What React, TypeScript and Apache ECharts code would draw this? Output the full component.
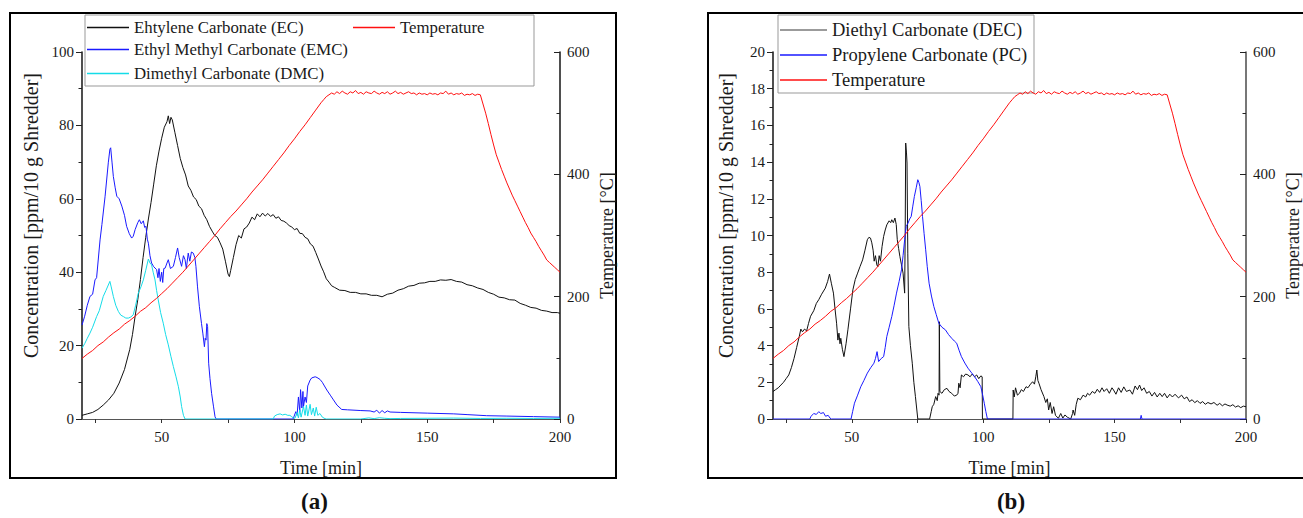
import React, { useEffect, useRef } from "react";
import * as echarts from "echarts";

const FONT = "Liberation Serif";

// ---------- Panel (a) data: [time (min), value] ----------
const ecData: number[][] = [
  [20, 1.0], [22, 1.4], [24, 1.8], [26, 2.6], [28, 3.8], [30, 5.2], [32, 7.0], [34, 9.8], [36, 13.5], [38, 19],
  [39, 23], [40, 28], [41, 32.5], [42, 38], [43, 44], [44, 49.5], [45, 54.5], [46, 59], [47, 64], [48, 69],
  [49, 73], [50, 76.5], [51, 79.5], [52, 81], [52.5, 82.6], [53, 80.5], [53.5, 82.2], [54, 81.5], [55, 78],
  [56, 74.5], [57, 71], [58, 68.5], [59, 66.5], [60, 63.5], [61, 62.3], [62, 60.5], [63, 59.8], [64, 58],
  [65, 57.3], [66, 55.5], [67, 54.3], [68, 52.5], [69, 51.2], [70, 50], [71, 49.5], [72, 48], [73, 46.3],
  [74, 43], [75, 39.5], [75.5, 38.8], [76, 40.5], [77, 44], [78, 47.5], [79, 50], [80, 49.3], [81, 51.8],
  [82, 52.3], [83, 53.4], [84, 55], [85, 54.3], [86, 55.9], [87, 55.1], [88, 56.1], [89, 55.3], [90, 56],
  [91, 55.2], [92, 55.7], [93, 54.7], [94, 55.1], [95, 54.1], [96, 53.9], [97, 53.4], [98, 52.7], [99, 52.3],
  [100, 51.6], [101, 51.9], [102, 50.6], [103, 50.5], [104, 49.5], [105, 49.1], [106, 47.7], [107, 47.1],
  [108, 45.4], [109, 43.6], [110, 41.7], [111, 40.1], [112, 38.2], [113, 37.3], [114, 36.3], [115, 35.9],
  [117, 35.1], [119, 35.0], [121, 34.5], [123, 34.5], [125, 34.1], [127, 34.1], [129, 33.7], [131, 33.7],
  [133, 33.3], [135, 34.0], [137, 34.3], [139, 35.1], [141, 35.5], [143, 36.2], [145, 36.4], [147, 37.0],
  [149, 37.1], [151, 37.5], [153, 37.5], [155, 37.9], [157, 37.8], [159, 38.0], [161, 37.5], [163, 37.3],
  [165, 36.6], [167, 36.3], [169, 35.7], [171, 35.3], [173, 34.5], [175, 34.0], [177, 33.2], [179, 33.0],
  [181, 32.5], [183, 32.4], [185, 31.5], [187, 31.0], [189, 30.4], [191, 30.2], [193, 29.6], [195, 29.4],
  [197, 29.0], [199, 29.0], [200, 28.8],
];

const emcData: number[][] = [
  [20, 25.6], [21, 28], [22, 31], [23, 33.4], [24, 34], [24.9, 37.9], [25.5, 38.5], [26.8, 48.8], [27.5, 53],
  [28.7, 60.7], [29.9, 69.8], [30.5, 73.5], [30.8, 73.9], [31.3, 70], [31.8, 66.1], [32.5, 63], [33.1, 60.7],
  [34, 60], [35, 58], [36, 55.5], [36.8, 52.5], [37.8, 50.5], [38.7, 49.3], [39.3, 49.8], [40, 51.6], [41, 53.5],
  [41.6, 54.3], [42.3, 53.2], [43.1, 54], [43.6, 52.2], [44.1, 52.5], [44.6, 49], [45, 47.9], [45.6, 44.5],
  [46.2, 42.5], [47, 41.5], [48.1, 40.7], [48.6, 38.5], [49, 41], [49.5, 37.5], [50, 40], [50.4, 37.2],
  [50.8, 41], [51.3, 41.1], [52, 42.5], [52.5, 43.4], [53.3, 41], [54.4, 41.6], [55.2, 44], [56, 46.6],
  [56.6, 44], [57.5, 41.6], [58.2, 44.5], [58.8, 43.4], [59.3, 41], [60, 45.2], [60.6, 43], [61.2, 45.5],
  [61.9, 45.2], [62.5, 44], [62.9, 41.6], [63.5, 36], [64.2, 30.6], [65, 26], [65.5, 23.4], [66.1, 19.7],
  [66.4, 22], [66.7, 21.5], [67, 26], [67.3, 25.2], [67.7, 15.2], [68.2, 11], [68.8, 7], [69.5, 3.5],
  [70.1, 0.6], [70.5, 0], [99.5, 0], [100.5, 2], [101, 1], [101.5, 6], [102, 2], [102.3, 8], [102.8, 3],
  [103.2, 7.5], [103.4, 3.4], [104, 6], [104.5, 4.5], [105, 9], [105.9, 10.6], [106.5, 11.2], [107.8, 11.5],
  [108.5, 11.3], [109.6, 10.8], [110.5, 10], [111.3, 9], [112.2, 7.9], [113.5, 6.5], [114.7, 5.2], [116, 3.8],
  [117.8, 2.6], [120, 2.5], [125, 2.3], [128.5, 2.2], [130, 1.9], [131, 2.4], [132, 1.6], [133, 2.3],
  [134, 1.7], [135, 2.2], [136, 1.9], [140, 1.8], [150, 1.6], [160, 1.4], [165, 1.2], [172.4, 0.9],
  [180, 0.8], [190, 0.65], [200, 0.5],
];

const dmcData: number[][] = [
  [20, 19.3], [21, 20.5], [22, 22], [23, 23.4], [24, 25], [25.5, 27.9], [26.5, 29.5], [28, 33.4], [29, 35],
  [30.5, 37.5], [31, 36], [31.8, 33.4], [32.7, 31], [33.7, 29.3], [34.6, 28.3], [35.6, 27.9], [36.5, 27.5],
  [37.5, 27.5], [38.4, 27.8], [39.3, 28.4], [40.2, 31], [41.2, 34.3], [42.2, 36], [43.1, 37.9], [44, 40.5],
  [45, 43.6], [45.6, 42.5], [46.2, 42], [46.8, 40], [47.5, 37.9], [48.1, 35], [48.7, 32.5], [49.6, 29],
  [50.6, 26.1], [51.5, 23], [52.5, 20.2], [53.5, 17], [54.4, 14.3], [55.4, 11.5], [56.3, 8.8], [57, 6],
  [57.5, 3.4], [58.2, 1], [58.8, 0], [92, 0], [92.5, 0.8], [93.5, 1.2], [94.6, 1.4], [95.5, 1.1], [96.5, 1.3],
  [97.5, 1.0], [98.3, 1.0], [99, 0.6], [99.6, 0.3], [100.2, 0.2], [101, 1.8], [101.5, 0.3], [102, 2.5],
  [102.5, 0.5], [103.4, 3.4], [104, 1], [104.5, 3.8], [105, 0.8], [105.9, 4], [106.4, 1.2], [107.1, 3],
  [107.6, 0.8], [108.2, 3.2], [108.8, 1], [109.6, 1.5], [110.5, 0.5], [111.5, 0.1], [112, 0], [125, 0],
  [128, 0.3], [130, 0.1], [132, 0.35], [134, 0.2], [136, 0.1], [140, 0.15], [150, 0.2], [160, 0.25],
  [170, 0.15], [180, 0.2], [190, 0.15], [200, 0.2],
];

// Temperature profile (°C)
const temperatureData: number[][] = [
  [20, 99], [22, 106], [24, 112], [26, 120], [28, 126], [30, 134], [32, 141], [34, 147], [36, 155], [38, 161],
  [40, 168], [42, 176], [44, 182], [46, 190], [48, 197], [50, 205], [52, 213], [54, 222], [56, 231], [58, 240],
  [60, 250], [62, 260], [64, 270], [66, 280], [68, 290], [70, 300], [72, 311], [74, 321], [76, 331], [78, 340],
  [80, 350], [82, 360], [84, 371], [86, 381], [88, 391], [90, 402], [92, 413], [94, 424], [96, 435], [98, 447],
  [100, 458], [102, 470], [104, 481], [106, 493], [108, 505], [110, 517], [111, 522], [112, 527], [113, 530],
  [114, 533], [115, 531], [116, 535], [117, 532], [118, 536], [119, 533], [120, 531], [121, 535], [122, 533],
  [123, 537], [124, 532], [125, 534], [126, 531], [127, 535], [128, 533], [129, 532], [130, 536], [131, 533],
  [132, 531], [133, 534], [134, 532], [135, 535], [136, 531], [137, 533], [138, 536], [139, 532], [140, 534],
  [141, 531], [142, 533], [143, 535], [144, 532], [145, 533], [146, 530], [147, 533], [148, 531], [149, 532],
  [150, 530], [151, 533], [152, 531], [153, 532], [154, 530], [155, 533], [156, 532], [157, 536], [158, 531],
  [159, 533], [160, 530], [161, 532], [162, 531], [163, 533], [164, 529], [165, 531], [166, 530], [167, 532],
  [168, 529], [169, 531], [170, 530], [171, 515], [172, 500], [173, 483], [174, 465], [175, 448], [176, 432],
  [177, 420], [178, 408], [179, 397], [180, 386], [181, 376], [182, 366], [183, 357], [184, 348], [185, 339],
  [186, 330], [187, 321], [188, 313], [189, 304], [190, 297], [191, 290], [192, 282], [193, 275], [194, 268],
  [195, 260], [196, 256], [197, 252], [198, 248], [199, 244], [200, 240],
];

// ---------- Panel (b) data ----------
const decData: number[][] = [
  [20, 1.5], [21, 1.6], [22, 1.7], [23, 1.85], [24, 2.0], [25, 2.2], [26, 2.4], [27, 2.8], [28, 3.3], [29, 3.9],
  [30, 4.5], [30.6, 4.9], [31.2, 4.75], [32, 4.9], [32.8, 4.8], [33.5, 5.2], [34.3, 5.6], [35.5, 5.9],
  [36.5, 6.3], [37.4, 6.5], [38.5, 6.8], [39.9, 7.13], [40.8, 7.5], [41.5, 7.9], [42.2, 7.4], [43, 6.86],
  [43.6, 6.0], [44.2, 5.22], [44.7, 4.3], [45.1, 4.68], [45.5, 4.1], [45.8, 4.4], [46.4, 3.8], [47, 3.4],
  [47.8, 4.1], [48.5, 4.86], [49.5, 6.0], [50.4, 7.04], [51.3, 7.6], [52.2, 7.95], [53.1, 8.3], [54.1, 8.67],
  [55, 9.2], [55.9, 9.77], [56.5, 9.9], [57.1, 9.86], [57.6, 9.6], [58.1, 9.2], [58.5, 8.6], [59, 8.9],
  [59.5, 8.4], [59.9, 8.3], [60.4, 8.9], [60.9, 8.6], [61.5, 9.4], [62.1, 9.95], [62.7, 10.3], [63.3, 10.58],
  [64.2, 10.8], [64.8, 10.7], [65.2, 10.86], [65.8, 10.7], [66.4, 10.95], [66.9, 10.6], [67.3, 9.77],
  [67.8, 9.3], [68.3, 8.85], [68.9, 8.4], [69.5, 7.95], [70.1, 6.86], [70.3, 10], [70.5, 15.04], [70.8, 14.5],
  [71, 13.95], [71.3, 9], [71.7, 5.04], [72.3, 4], [73, 3.04], [73.6, 2], [74.2, 1.22], [75.1, 0], [79.6, 0],
  [80.2, 0.4], [80.6, 0.67], [81.2, 0.8], [81.9, 1.22], [82.5, 1.0], [82.8, 1.4], [83.2, 1.3], [83.3, 5.3],
  [83.5, 1.5], [84.3, 1.4], [85.2, 1.6], [86.2, 1.67], [87, 1.5], [88, 1.4], [89, 1.25], [89.9, 1.3],
  [90.4, 1.4], [90.7, 1.95], [91.2, 1.7], [91.7, 2.4], [92.5, 2.3], [93.3, 2.45], [94.2, 2.4], [95, 2.3],
  [95.8, 2.45], [96.7, 2.3], [97.5, 2.4], [98.3, 2.2], [99.1, 2.35], [99.6, 2.3], [99.7, 0], [111.3, 0],
  [111.4, 1.58], [111.8, 1.2], [112.3, 1.7], [113, 1.3], [113.8, 1.4], [114.5, 1.6], [115.3, 1.5],
  [116.3, 1.76], [117, 1.7], [118, 1.9], [118.8, 2.03], [119.5, 1.9], [120, 2.3], [120.4, 2.67], [120.8, 2.1],
  [121.2, 1.95], [122, 1.6], [123.1, 1.22], [123.8, 0.9], [124.4, 1.1], [124.9, 0.49], [125.5, 0.9],
  [126.2, 0.3], [126.8, 0.67], [127.5, 0.2], [128.6, 0.04], [129.5, 0.3], [130.3, 0.05], [131.1, 0.22],
  [132, 0.1], [133.3, 0], [134, 0.3], [134.2, 0.49], [134.8, 0.2], [135.4, 0.8], [136, 1.13], [137, 1.05],
  [138, 1.3], [139, 1.2], [139.7, 1.4], [140.5, 1.3], [141.5, 1.5], [142.5, 1.4], [143.4, 1.62], [144.3, 1.45],
  [145.2, 1.7], [146, 1.5], [147, 1.65], [148, 1.4], [149, 1.7], [149.6, 1.58], [150.5, 1.35], [151.5, 1.7],
  [152.5, 1.45], [153.5, 1.75], [154.5, 1.5], [155.8, 1.58], [156.8, 1.35], [157.8, 1.8], [158.7, 1.6],
  [159.5, 1.85], [160.3, 1.55], [161.2, 1.7], [162.2, 1.4], [163.2, 1.5], [164.2, 1.25], [165.2, 1.45],
  [166.2, 1.2], [167.2, 1.4], [168.1, 1.22], [169, 1.4], [170, 1.15], [171, 1.35], [172, 1.2], [173, 1.35],
  [174.3, 1.15], [175.5, 1.3], [176.5, 1.1], [177.5, 1.2], [178.5, 0.95], [179.5, 1.05], [180.5, 0.89],
  [181.5, 1.0], [182.5, 0.85], [183.5, 0.95], [184.5, 0.8], [185.5, 0.9], [186.7, 0.82], [187.8, 0.9],
  [189, 0.75], [190, 0.85], [191, 0.72], [192, 0.82], [192.8, 0.76], [194, 0.7], [195, 0.78], [196, 0.65],
  [197, 0.72], [198, 0.62], [199, 0.7], [200, 0.67],
];

const pcData: number[][] = [
  [20, 0], [34, 0], [34.5, 0.15], [35.5, 0.3], [36.5, 0.25], [37.4, 0.4], [38.2, 0.3], [39.2, 0.35], [40, 0.15],
  [41, 0.2], [41.7, 0.05], [42.2, 0], [49.7, 0], [50.3, 0.4], [51, 0.86], [52.2, 1.3], [53.4, 1.76], [54.6, 2.1],
  [55.9, 2.5], [57.2, 2.8], [58.4, 3.04], [59, 3.3], [59.6, 3.67], [60.2, 3.13], [61.2, 3.3], [62.1, 3.4],
  [62.7, 3.9], [63.3, 4.49], [64.2, 5.0], [65.2, 5.58], [66.1, 6.2], [67, 6.86], [68, 7.5], [68.9, 8.13],
  [69.5, 8.9], [70.1, 9.77], [70.7, 10.5], [71.4, 10.68], [72, 10.9], [72.6, 11.04], [73.2, 11.6],
  [73.8, 12.13], [74.5, 12.6], [75.1, 13.04], [75.5, 12.9], [75.9, 12.67], [76.4, 11.9], [76.9, 11.04],
  [77.5, 10.1], [78.1, 9.22], [78.7, 8.3], [79.4, 7.4], [80.3, 6.7], [81.2, 6.13], [82.1, 5.7], [83.1, 5.22],
  [84.3, 5.0], [85.6, 4.86], [86.8, 4.6], [88, 4.4], [89, 4.25], [89.9, 4.13], [90.8, 3.75], [91.7, 3.4],
  [93, 3.05], [94.2, 2.77], [95.4, 2.55], [96.7, 2.31], [97.9, 2.05], [99.1, 1.76], [99.8, 1.3], [100.4, 0.86],
  [101, 0.4], [101.6, 0], [159.8, 0], [160.1, 0.2], [160.4, 0], [200, 0],
];

// ---------- Axis ticks / labels ----------
const timeLabels = [50, 100, 150, 200];
const timeTicks = [25, 50, 75, 100, 125, 150, 175, 200];

const axisText = { color: "#1a1a1a", fontFamily: FONT, fontSize: 15 };
const nameText = { color: "#1a1a1a", fontFamily: FONT, fontSize: 18 };

function xAxisFor(gridIndex: number) {
  return {
    type: "value",
    gridIndex,
    min: 20,
    max: 200,
    name: "Time [min]",
    nameLocation: "middle",
    nameGap: 40,
    nameTextStyle: nameText,
    axisLine: { show: true, lineStyle: { color: "#555", width: 1 } },
    axisTick: { show: true, length: 4, customValues: timeTicks, lineStyle: { color: "#333" } },
    axisLabel: { show: true, margin: 10, customValues: timeLabels, ...axisText },
    splitLine: { show: false },
  };
}

function yAxisFor(gridIndex: number, position: string, max: number, interval: number, name: string) {
  const right = position === "right";
  return {
    type: "value",
    gridIndex,
    position,
    min: 0,
    max,
    interval,
    name,
    nameLocation: "middle",
    nameGap: right ? 38 : gridIndex === 0 ? 41 : 37,
    nameTextStyle: right
      ? nameText
      : { ...nameText, fontSize: 20, padding: [0, 0, 0, 40] },
    axisLine: { show: true, onZero: false, lineStyle: { color: right && gridIndex === 1 ? "#555" : "#222", width: 1.6 } },
    axisTick: { show: true, inside: right, length: 6, lineStyle: { color: "#222" } },
    minorTick: { show: true, splitNumber: 2, length: 3.5, lineStyle: { color: "#222" } },
    axisLabel: { show: true, margin: right ? 7 : 8, ...axisText },
    splitLine: { show: false },
    minorSplitLine: { show: false },
  };
}

const lineSeries = (name: string, data: number[][], color: string, xi: number, yi: number) => ({
  type: "line",
  name,
  data,
  xAxisIndex: xi,
  yAxisIndex: yi,
  symbol: "none",
  showSymbol: false,
  lineStyle: { color, width: 1 },
  itemStyle: { color },
  silent: true,
});

const legendItem = (name: string, left: number, top: number, width: number, fontSize: number, iconColor: string) => ({
  show: true,
  data: [{ name, icon: "rect", itemStyle: { color: iconColor, borderWidth: 0, opacity: 1 } }],
  icon: "rect",
  left,
  top,
  padding: 0,
  itemWidth: width,
  itemHeight: 1.6,
  itemGap: 0,
  selectedMode: false,
  inactiveColor: iconColor,
  itemStyle: { color: iconColor, borderWidth: 0 },
  textStyle: { color: "#1a1a1a", fontFamily: FONT, fontSize, lineHeight: 20 },
});

const RED = "#ff1010";
const BLUE = "#1a1aff";
const CYAN = "#14dce8";
const BLACK = "#111111";

export default function App() {
  const ref = useRef<HTMLDivElement>(null);
  useEffect(() => {
    if (!ref.current) return;
    const chart = echarts.init(ref.current, null, { renderer: "svg" });
    const option: any = {
      animation: false,
      backgroundColor: "#ffffff",
      grid: [
        { left: 82, top: 52, width: 478, height: 367, containLabel: false },
        { left: 773, top: 52, width: 486, height: 367, containLabel: false },
      ],
      xAxis: [xAxisFor(0), xAxisFor(1)],
      yAxis: [
        yAxisFor(0, "left", 100, 20, "Concentration [ppm/10 g Shredder]"),
        yAxisFor(0, "right", 600, 200, "Temperature [°C]"),
        yAxisFor(1, "left", 20, 2, "Concentration [ppm/10 g Shredder]"),
        yAxisFor(1, "right", 600, 200, "Temperature [°C]"),
      ],
      legend: [
        legendItem("Ehtylene Carbonate (EC)", 87, 17.5, 42, 16.8, BLACK),
        legendItem("Ethyl Methyl Carbonate (EMC)", 87, 39.5, 42, 16.8, BLUE),
        legendItem("Dimethyl Carbonate (DMC)", 87, 63.5, 42, 16.8, CYAN),
        legendItem("Temperature", 353, 17.5, 42, 16.8, RED),
        legendItem("Diethyl Carbonate (DEC)", 780, 20, 47, 18.5, "#7a7a7a"),
        legendItem("Propylene Carbonate (PC)", 780, 45, 47, 18.5, BLUE),
        legendItem("Temperature", 780, 70, 47, 18.5, RED),
      ],
      graphic: [
        { type: "rect", shape: { x: 10, y: 13, width: 606, height: 465 }, style: { fill: "none", stroke: "#000", lineWidth: 2 }, silent: true },
        { type: "rect", shape: { x: 708, y: 13, width: 620, height: 465 }, style: { fill: "none", stroke: "#000", lineWidth: 2 }, silent: true },
        { type: "rect", shape: { x: 85, y: 15, width: 449, height: 71 }, style: { fill: "none", stroke: "#999", lineWidth: 1 }, silent: true },
        { type: "rect", shape: { x: 778, y: 15, width: 256, height: 78 }, style: { fill: "none", stroke: "#999", lineWidth: 1 }, silent: true },
        { type: "text", x: 314.5, y: 501, style: { text: "(a)", font: `bold 23px ${FONT}`, fill: "#111", textAlign: "center", textVerticalAlign: "middle" }, silent: true },
        { type: "text", x: 1011, y: 501, style: { text: "(b)", font: `bold 23px ${FONT}`, fill: "#111", textAlign: "center", textVerticalAlign: "middle" }, silent: true },
      ],
      series: [
        lineSeries("Ehtylene Carbonate (EC)", ecData, BLACK, 0, 0),
        lineSeries("Ethyl Methyl Carbonate (EMC)", emcData, BLUE, 0, 0),
        lineSeries("Dimethyl Carbonate (DMC)", dmcData, CYAN, 0, 0),
        lineSeries("Temperature", temperatureData, RED, 0, 1),
        lineSeries("Diethyl Carbonate (DEC)", decData, BLACK, 1, 2),
        lineSeries("Propylene Carbonate (PC)", pcData, BLUE, 1, 2),
        lineSeries("Temperature", temperatureData, RED, 1, 3),
      ],
    };
    chart.setOption(option);
    return () => chart.dispose();
  }, []);
  return <div ref={ref} style={{ position: "absolute", left: 0, top: 0, width: 1303, height: 518 }} />;
}
